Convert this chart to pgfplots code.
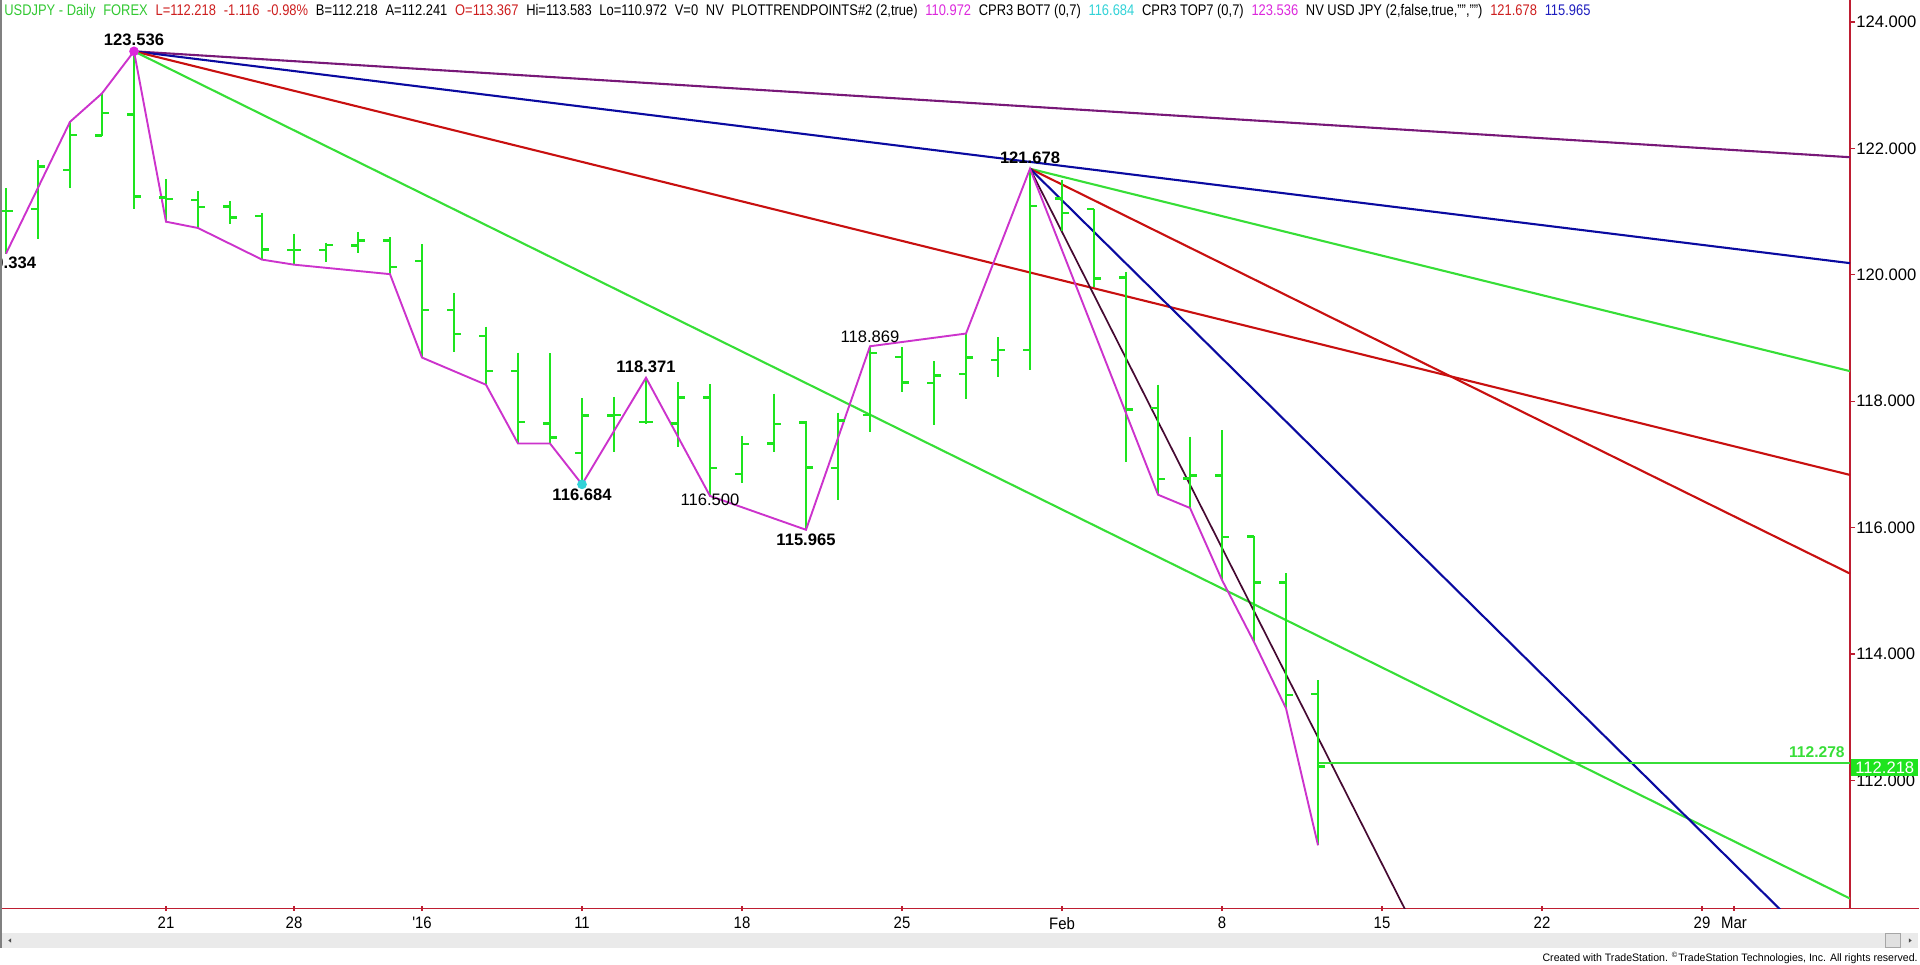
\documentclass[border=0pt]{standalone}
\usepackage{fontspec}
\setmainfont{Liberation Sans}
\newfontfamily\narrowfont[FakeStretch=0.9]{Liberation Sans}
\usepackage{xcolor}
\usepackage{graphicx}
\usepackage{pgfplots}
\usepackage{pgfplotstable}
\pgfplotsset{compat=1.18}

\definecolor{barg}{RGB}{30,228,30}
\definecolor{lineg}{RGB}{55,222,55}
\definecolor{fanred}{RGB}{200,16,16}
\definecolor{fanblue}{RGB}{10,10,160}
\definecolor{fanpurple}{RGB}{120,24,120}
\definecolor{fandark}{RGB}{70,10,50}
\definecolor{zigzag}{RGB}{204,51,204}
\definecolor{axred}{RGB}{190,30,50}
\definecolor{hdrgreen}{RGB}{50,200,50}
\definecolor{hdrred}{RGB}{205,30,30}
\definecolor{hdrmag}{RGB}{220,40,220}
\definecolor{hdrcyan}{RGB}{50,210,215}
\definecolor{hdrblue}{RGB}{30,30,190}
\definecolor{scroll}{RGB}{234,234,234}

% open tick to the left, close tick to the right
\pgfdeclareplotmark{otick}{\pgfpathmoveto{\pgfqpoint{-\pgfplotmarksize}{0pt}}\pgfpathlineto{\pgfqpoint{0pt}{0pt}}\pgfusepathqstroke}
\pgfdeclareplotmark{ctick}{\pgfpathmoveto{\pgfqpoint{0pt}{0pt}}\pgfpathlineto{\pgfqpoint{\pgfplotmarksize}{0pt}}\pgfusepathqstroke}

% daily bars, k = bar index (0 = 14 Dec 2015)
\pgfplotstableread{
k  o       h       l       c
0  121.01  121.37  120.334 121.01
1  121.04  121.82  120.56  121.71
2  121.66  122.42  121.37  122.21
3  122.20  122.87  122.19  122.56
4  122.54  123.536 121.04  121.24
5  121.22  121.51  120.84  121.20
6  121.18  121.32  120.74  121.07
7  121.08  121.16  120.80  120.91
8  120.93  120.98  120.24  120.40
9  120.39  120.65  120.16  120.39
10 120.39  120.51  120.21  120.47
11 120.46  120.68  120.34  120.54
12 120.54  120.59  120.01  120.12
13 120.22  120.48  118.69  119.44
14 119.44  119.71  118.78  119.06
15 119.03  119.18  118.26  118.48
16 118.48  118.77  117.33  117.67
17 117.65  118.76  117.33  117.43
18 117.18  118.05  116.684 117.77
19 117.77  118.07  117.20  117.78
20 117.67  118.371 117.64  117.67
21 117.65  118.30  117.27  118.06
22 118.06  118.27  116.500 116.94
23 116.85  117.45  116.70  117.32
24 117.33  118.12  117.20  117.64
25 117.66  117.68  115.965 116.95
26 116.94  117.82  116.44  117.69
27 117.78  118.869 117.52  118.76
28 118.70  118.86  118.15  118.30
29 118.29  118.63  117.62  118.41
30 118.43  119.07  118.03  118.69
31 118.65  119.01  118.39  118.81
32 118.81  121.678 118.50  121.09
33 121.21  121.50  120.70  120.98
34 121.04  121.04  119.81  119.94
35 119.96  120.04  117.03  117.87
36 117.89  118.26  116.52  116.77
37 116.78  117.44  116.31  116.82
38 116.82  117.54  115.17  115.85
39 115.86  115.86  114.19  115.13
40 115.13  115.28  113.14  113.35
41 113.367 113.583 110.972 112.218
}\ohlc

\tikzset{
  lbl/.style={font=\bfseries\fontsize{8.3}{10}\selectfont, inner sep=0pt},
  lblr/.style={font=\fontsize{8.3}{10}\selectfont, inner sep=0pt},
}
\newcommand\hd{\hspace{0.6em}}

\begin{document}
\begin{tikzpicture}
\begin{axis}[
  scale only axis, width=925pt, height=454.15pt,
  xmin=-0.1875, xmax=57.625, ymin=109.976, ymax=124.348,
  axis x line*=bottom, axis y line*=right,
  axis line style={draw=axred, line width=0.75pt, -},
  xtick={5,9,13,18,23,28,33,38,43,48,53,54},
  xticklabels={21,28,'16,11,18,25,Feb,8,15,22,29,Mar},
  ytick={112,114,...,124},
  yticklabel pos=right,
  tick align=outside,
  major tick length=2.6pt,
  tick style={draw=axred, line width=0.6pt},
  x tick style={yshift=1.2pt},
  tick label style={font=\fontsize{8.3}{10}\selectfont, inner sep=0pt},
  xticklabel style={font=\narrowfont\fontsize{8.3}{10}\selectfont, anchor=north},
  xticklabel shift=1.7pt,
  yticklabel style={anchor=west},
  yticklabel shift=0.4pt,
  /pgf/number format/fixed,
  /pgf/number format/fixed zerofill,
  /pgf/number format/precision=3,
  /pgf/number format/1000 sep={},
  /pgf/number format/assume math mode=true,
]
% fan lines from 123.536 and 121.678
\addplot[fanpurple, line width=1.05pt] coordinates {(4,123.536) (57.625,121.860)};
\addplot[fanblue, line width=1.05pt] coordinates {(4,123.536) (57.625,120.184)};
\addplot[fanred, line width=1.05pt] coordinates {(4,123.536) (57.625,116.833)};
\addplot[lineg, line width=1.05pt] coordinates {(4,123.536) (57.625,110.130)};
\addplot[lineg, line width=1.05pt] coordinates {(32,121.678) (57.625,118.475)};
\addplot[fanred, line width=1.05pt] coordinates {(32,121.678) (57.625,115.272)};
\addplot[fanblue, line width=1.05pt] coordinates {(32,121.678) (57.625,108.866)};
\addplot[fandark, line width=0.85pt] coordinates {(32,121.678) (57.625,96.053)};
\addplot[lineg, line width=1.05pt] coordinates {(41,112.278) (57.625,112.278)};

% OHLC bars
\addplot[draw=none, mark=none,
  error bars/.cd, y dir=minus, y explicit, error mark=none,
  error bar style={barg, line width=1.45pt}]
  table[x=k, y=h, y error expr=\thisrow{h}-\thisrow{l}] {\ohlc};
\addplot[only marks, mark=otick, mark size=3.3pt, mark options={draw=barg, line width=1.3pt}]
  table[x=k, y=o] {\ohlc};
\addplot[only marks, mark=ctick, mark size=3.3pt, mark options={draw=barg, line width=1.3pt}]
  table[x=k, y=c] {\ohlc};

% swing points
\addplot[zigzag, line width=0.95pt] coordinates {
  (0,120.334) (2,122.42) (3,122.87) (4,123.536) (5,120.84) (6,120.74)
  (8,120.24) (9,120.16) (12,120.01) (13,118.69) (15,118.26) (16,117.33)
  (17,117.33) (18,116.684) (20,118.371) (22,116.500) (25,115.965)
  (27,118.869) (30,119.07) (32,121.678) (36,116.52) (37,116.31)
  (38,115.17) (39,114.19) (40,113.14) (41,110.972)};
\addplot[only marks, mark=*, mark size=2.2pt, hdrmag] coordinates {(4,123.536)};
\addplot[only marks, mark=*, mark size=2.2pt, hdrcyan] coordinates {(18,116.684)};

\node[lbl, yshift=5.65pt] at (axis cs:4,123.536) {123.536};
\node[lbl, yshift=-4.6pt] at (axis cs:0,120.334) {120.334};
\node[lbl, yshift=5.5pt] at (axis cs:32,121.678) {121.678};
\node[lblr, yshift=4.65pt] at (axis cs:27,118.869) {118.869};
\node[lbl, yshift=5.5pt] at (axis cs:20,118.371) {118.371};
\node[lbl, yshift=-5pt] at (axis cs:18,116.684) {116.684};
\node[lblr, yshift=-2.65pt] at (axis cs:22,116.53) {116.500};
\node[lbl, yshift=-5pt] at (axis cs:25,115.965) {115.965};
\node[font=\bfseries\fontsize{7.8}{9}\selectfont, text=lineg, anchor=south east,
  inner sep=0pt, yshift=2.3pt] at (axis cs:57.47,112.278) {112.278};

\coordinate (lastpx) at (axis cs:57.625,112.218);
\end{axis}

% last price box on the price scale
\node[fill=barg, text=white, anchor=west, inner sep=0pt, minimum height=8.5pt,
  minimum width=33.6pt, xshift=0.4pt, yshift=-0.4pt,
  font=\fontsize{8.3}{10}\selectfont] at (lastpx) {112.218};
\draw[axred, line width=0.75pt] (925pt,0pt) -- (959.5pt,0pt);
\draw[gray, line width=0.8pt] (0.4pt,454.15pt) -- (0.4pt,-20pt);

% header line
\node[anchor=base west, inner sep=0pt] at (2pt,446.4pt) {\resizebox{793pt}{\height}{\fontsize{7.7}{9}\selectfont
  \textcolor{hdrgreen}{USDJPY - Daily\hd FOREX}\hd
  \textcolor{hdrred}{L=112.218\hd -1.116\hd -0.98\%}\hd
  B=112.218\hd A=112.241\hd
  \textcolor{hdrred}{O=113.367}\hd
  Hi=113.583\hd Lo=110.972\hd V=0\hd NV\hd PLOTTRENDPOINTS\#2 (2,true)\hd
  \textcolor{hdrmag}{110.972}\hd
  CPR3 BOT7 (0,7)\hd \textcolor{hdrcyan}{116.684}\hd
  CPR3 TOP7 (0,7)\hd \textcolor{hdrmag}{123.536}\hd
  NV USD JPY (2,false,true,"","")\hd
  \textcolor{hdrred}{121.678}\hd \textcolor{hdrblue}{115.965}}};

% scroll bar and credits
\fill[scroll] (1pt,-12.2pt) rectangle (959pt,-20pt);
\draw[fill=black!12, draw=black!35, line width=0.4pt] (942.5pt,-12.6pt) rectangle (950pt,-19.4pt);
\fill[black!70] (4.2pt,-16.1pt) -- (5.6pt,-15pt) -- (5.6pt,-17.2pt) -- cycle;
\fill[black!70] (955.8pt,-16.1pt) -- (954.4pt,-15pt) -- (954.4pt,-17.2pt) -- cycle;
\node[anchor=base east, inner sep=0pt] at (959pt,-26.7pt) {\resizebox{187.5pt}{\height}{\fontsize{5.4}{6}\selectfont Created with TradeStation. \textsuperscript{©}TradeStation Technologies, Inc. All rights reserved.}};

\pgfresetboundingbox
\path[use as bounding box] (0pt,-27.85pt) rectangle (960pt,454.15pt);
\end{tikzpicture}
\end{document}
